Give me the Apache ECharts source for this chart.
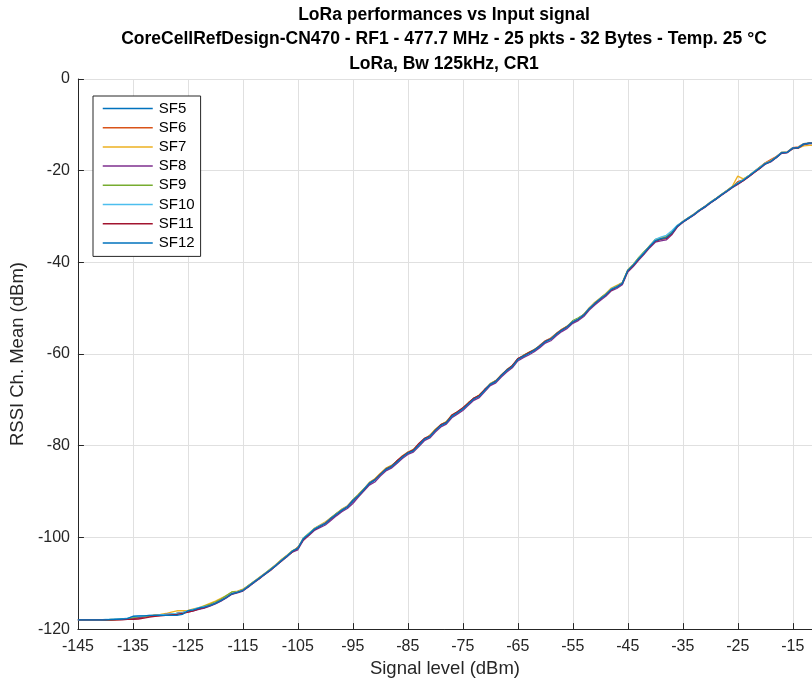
<!DOCTYPE html>
<html>
<head>
<meta charset="utf-8">
<script src="https://cdn.jsdelivr.net/npm/echarts@6/dist/echarts.min.js"></script>
<style>
  html, body { margin: 0; padding: 0; background: #fff; }
  #chart { width: 812px; height: 683px; }
</style>
</head>
<body>
<div id="chart"></div>
<script>
// Input signal level sweep (dBm), 1 dB steps
const signalLevels = [
  -145, -144, -143, -142, -141, -140, -139, -138, -137, -136,
  -135, -134, -133, -132, -131, -130, -129, -128, -127, -126,
  -125, -124, -123, -122, -121, -120, -119, -118, -117, -116,
  -115, -114, -113, -112, -111, -110, -109, -108, -107, -106,
  -105, -104, -103, -102, -101, -100, -99, -98, -97, -96,
  -95, -94, -93, -92, -91, -90, -89, -88, -87, -86,
  -85, -84, -83, -82, -81, -80, -79, -78, -77, -76,
  -75, -74, -73, -72, -71, -70, -69, -68, -67, -66,
  -65, -64, -63, -62, -61, -60, -59, -58, -57, -56,
  -55, -54, -53, -52, -51, -50, -49, -48, -47, -46,
  -45, -44, -43, -42, -41, -40, -39, -38, -37, -36,
  -35, -34, -33, -32, -31, -30, -29, -28, -27, -26,
  -25, -24, -23, -22, -21, -20, -19, -18, -17, -16,
  -15, -14, -13, -12, -11
];

// Mean channel RSSI (dBm) per spreading factor
const rssiSF5 = [
  -118.0, -118.0, -118.0, -118.0, -118.0, -118.0, -118.0, -117.9, -117.9, -117.8,
  -117.5, -117.3, -117.2, -117.1, -117.0, -117.0, -116.9, -116.8, -116.6, -116.4,
  -116.1, -115.7, -115.5, -115.1, -114.8, -114.3, -113.7, -113.0, -112.4, -111.9,
  -111.5, -110.6, -109.9, -108.8, -108.1, -107.0, -106.2, -105.0, -104.2, -103.1,
  -102.2, -100.5, -99.2, -98.4, -97.5, -96.8, -96.0, -94.8, -94.2, -93.2,
  -92.2, -90.8, -89.7, -88.4, -87.4, -86.1, -85.3, -84.5, -83.7, -82.4,
  -81.7, -80.9, -80.0, -78.7, -77.8, -76.8, -75.5, -74.9, -73.7, -72.7,
  -72.1, -70.8, -69.9, -69.0, -68.0, -66.7, -65.9, -64.8, -63.5, -62.8,
  -61.1, -60.6, -59.8, -59.1, -58.4, -57.4, -56.6, -55.8, -54.9, -54.0,
  -53.1, -52.3, -51.4, -50.2, -49.1, -47.9, -47.0, -46.0, -45.2, -44.4,
  -41.9, -40.5, -39.3, -37.8, -36.6, -35.2, -34.7, -34.4, -33.4, -32.0,
  -31.2, -30.4, -29.6, -28.7, -27.9, -27.0, -26.2, -25.3, -24.5, -23.6,
  -22.6, -22.0, -21.2, -20.3, -19.4, -18.4, -17.9, -17.1, -16.1, -16.0,
  -15.1, -15.0, -14.3, -14.1, -14.0
];
const rssiSF6 = [
  -118.0, -118.0, -118.0, -118.0, -118.0, -118.0, -118.0, -118.0, -117.9, -117.9,
  -117.8, -117.6, -117.4, -117.2, -117.1, -117.0, -117.0, -116.9, -116.7, -116.4,
  -116.2, -115.9, -115.6, -115.3, -114.7, -114.2, -113.6, -112.9, -112.2, -111.8,
  -111.4, -110.8, -109.7, -109.0, -107.9, -107.2, -106.0, -105.2, -104.0, -103.2,
  -102.1, -100.6, -99.5, -98.1, -97.7, -96.8, -96.1, -94.9, -94.0, -93.3,
  -91.8, -91.0, -89.4, -88.3, -87.3, -86.4, -85.0, -84.7, -83.4, -82.6,
  -81.4, -81.2, -79.7, -78.7, -77.7, -76.8, -75.4, -75.1, -73.4, -72.9,
  -71.8, -71.0, -69.6, -69.3, -67.7, -66.7, -65.8, -64.8, -63.4, -62.8,
  -61.0, -60.6, -59.7, -59.3, -58.1, -57.1, -56.5, -55.5, -54.6, -54.0,
  -52.8, -52.5, -51.3, -50.2, -48.8, -48.1, -46.9, -46.0, -45.2, -44.7,
  -41.7, -40.7, -39.1, -38.0, -36.4, -35.4, -34.7, -34.7, -33.5, -32.2,
  -31.1, -30.4, -29.5, -28.7, -27.8, -27.0, -26.1, -25.3, -24.4, -23.5,
  -22.4, -22.0, -21.1, -20.2, -19.2, -18.3, -17.6, -16.9, -16.0, -15.9,
  -15.0, -14.8, -14.1, -14.0, -14.0
];
const rssiSF7 = [
  -118.0, -118.0, -118.0, -118.0, -118.0, -118.0, -117.9, -117.9, -117.8, -117.7,
  -117.5, -117.4, -117.2, -117.1, -116.9, -116.8, -116.6, -116.3, -116.0, -116.0,
  -115.9, -115.6, -115.3, -114.9, -114.4, -113.9, -113.3, -112.7, -111.9, -111.7,
  -111.3, -110.5, -109.6, -108.7, -107.8, -106.9, -105.9, -104.8, -103.9, -102.9,
  -102.2, -100.4, -99.2, -98.0, -97.3, -96.6, -95.7, -94.8, -93.8, -93.1,
  -91.9, -90.6, -89.4, -88.0, -87.2, -86.0, -84.9, -84.3, -83.4, -82.2,
  -81.4, -80.8, -79.6, -78.5, -77.7, -76.4, -75.4, -74.7, -73.3, -72.6,
  -71.8, -70.6, -69.7, -68.9, -67.8, -66.4, -65.8, -64.5, -63.5, -62.5,
  -61.1, -60.3, -59.6, -59.0, -58.2, -57.2, -56.6, -55.5, -54.6, -53.9,
  -52.9, -52.2, -51.3, -49.9, -48.7, -47.8, -46.8, -45.6, -45.0, -44.4,
  -41.6, -40.4, -39.0, -37.7, -36.3, -35.1, -34.6, -34.3, -33.4, -32.0,
  -31.1, -30.3, -29.5, -28.6, -27.8, -26.9, -26.1, -25.2, -24.3, -23.4,
  -21.2, -21.8, -21.1, -20.2, -19.3, -18.4, -17.8, -17.0, -16.1, -16.0,
  -15.2, -15.1, -14.6, -14.5, -14.4
];
const rssiSF8 = [
  -118.0, -118.0, -118.0, -118.0, -118.0, -118.0, -118.0, -117.9, -117.9, -117.8,
  -117.7, -117.5, -117.3, -117.1, -117.0, -116.9, -116.8, -116.7, -116.6, -116.4,
  -116.3, -116.0, -115.7, -115.4, -115.0, -114.5, -113.9, -113.2, -112.4, -112.1,
  -111.7, -110.8, -109.9, -109.0, -108.1, -107.2, -106.2, -105.2, -104.2, -103.2,
  -102.7, -100.6, -99.6, -98.5, -97.9, -97.3, -96.3, -95.3, -94.4, -93.7,
  -92.6, -91.2, -89.9, -88.6, -87.9, -86.6, -85.5, -84.9, -83.9, -82.8,
  -81.9, -81.4, -80.2, -78.9, -78.3, -77.0, -75.9, -75.3, -73.9, -73.1,
  -72.3, -71.2, -70.1, -69.5, -68.2, -66.9, -66.3, -65.0, -63.9, -63.0,
  -61.5, -60.8, -60.2, -59.5, -58.6, -57.6, -57.1, -56.0, -55.1, -54.4,
  -53.3, -52.7, -51.8, -50.4, -49.3, -48.3, -47.4, -46.2, -45.7, -44.9,
  -42.1, -40.9, -39.5, -38.2, -36.8, -35.6, -35.3, -35.1, -34.0, -32.3,
  -31.3, -30.5, -29.7, -28.8, -28.0, -27.1, -26.3, -25.4, -24.6, -23.7,
  -23.0, -22.2, -21.3, -20.4, -19.5, -18.6, -18.1, -17.2, -16.2, -16.1,
  -15.2, -15.1, -14.3, -14.1, -14.1
];
const rssiSF9 = [
  -118.0, -118.0, -118.0, -118.0, -118.0, -118.0, -118.0, -117.9, -117.8, -117.7,
  -117.5, -117.3, -117.2, -117.1, -117.0, -117.0, -116.9, -116.8, -116.6, -116.5,
  -116.1, -115.8, -115.4, -115.0, -114.6, -114.1, -113.5, -112.7, -111.9, -111.9,
  -111.4, -110.5, -109.6, -108.8, -107.9, -106.9, -106.0, -104.9, -104.0, -102.9,
  -102.3, -100.1, -99.1, -98.1, -97.4, -96.9, -95.7, -94.8, -93.9, -93.3,
  -91.8, -90.7, -89.4, -88.1, -87.3, -86.2, -85.0, -84.4, -83.4, -82.4,
  -81.5, -80.9, -79.8, -78.5, -77.9, -76.5, -75.5, -74.8, -73.5, -72.7,
  -71.9, -70.7, -69.7, -69.0, -67.8, -66.5, -65.8, -64.6, -63.4, -62.6,
  -61.1, -60.3, -59.7, -59.0, -58.2, -57.2, -56.6, -55.6, -54.7, -53.9,
  -52.7, -52.1, -51.4, -50.0, -48.9, -47.8, -46.9, -45.8, -45.2, -44.5,
  -41.7, -40.5, -38.9, -37.6, -36.4, -35.0, -34.8, -34.5, -33.5, -32.0,
  -31.1, -30.3, -29.5, -28.6, -27.8, -26.9, -26.1, -25.2, -24.4, -23.5,
  -22.7, -22.0, -21.1, -20.2, -19.3, -18.4, -17.9, -17.0, -16.0, -16.0,
  -15.0, -14.9, -14.2, -14.0, -14.0
];
const rssiSF10 = [
  -118.0, -118.0, -118.0, -118.0, -118.0, -117.9, -117.9, -117.8, -117.8, -117.6,
  -117.3, -117.2, -117.1, -117.0, -117.0, -116.9, -116.8, -116.7, -116.6, -116.4,
  -116.0, -115.7, -115.3, -115.1, -114.8, -114.3, -113.7, -113.0, -112.2, -111.9,
  -111.5, -110.6, -109.7, -108.8, -107.9, -107.0, -106.0, -105.0, -104.0, -103.0,
  -102.3, -100.2, -99.2, -98.1, -97.4, -96.8, -95.8, -94.9, -94.0, -93.2,
  -91.9, -90.8, -89.5, -88.1, -87.4, -86.2, -85.1, -84.5, -83.5, -82.4,
  -81.5, -81.0, -79.8, -78.5, -77.9, -76.6, -75.5, -74.9, -73.5, -72.7,
  -71.9, -70.8, -69.7, -69.1, -67.8, -66.5, -65.9, -64.6, -63.5, -62.6,
  -61.1, -60.4, -59.8, -59.1, -58.2, -57.2, -56.7, -55.6, -54.7, -54.0,
  -52.9, -52.3, -51.4, -50.0, -48.9, -47.9, -47.0, -45.8, -45.3, -44.5,
  -41.7, -40.5, -39.1, -37.8, -36.4, -35.0, -34.5, -34.1, -33.1, -31.9,
  -31.1, -30.3, -29.5, -28.6, -27.8, -26.9, -26.1, -25.2, -24.4, -23.5,
  -22.7, -22.0, -21.1, -20.2, -19.3, -18.4, -17.9, -17.0, -16.0, -16.0,
  -15.0, -14.9, -14.1, -14.0, -14.0
];
const rssiSF11 = [
  -118.0, -118.0, -118.0, -118.0, -118.0, -118.0, -118.0, -118.0, -118.0, -117.9,
  -117.9, -117.8, -117.6, -117.4, -117.2, -117.1, -117.0, -116.9, -116.8, -116.6,
  -116.3, -116.0, -115.6, -115.3, -114.9, -114.4, -113.8, -113.1, -112.3, -112.0,
  -111.6, -110.7, -109.8, -108.9, -108.0, -107.1, -106.1, -105.1, -104.1, -103.1,
  -102.4, -100.4, -99.4, -98.3, -97.6, -96.9, -95.9, -95.0, -94.1, -93.3,
  -92.0, -90.9, -89.6, -88.2, -87.4, -86.2, -85.1, -84.5, -83.3, -82.3,
  -81.5, -80.9, -79.5, -78.4, -77.9, -76.6, -75.4, -74.9, -73.3, -72.6,
  -71.7, -70.7, -69.6, -69.0, -67.7, -66.6, -65.9, -64.6, -63.5, -62.5,
  -61.0, -60.4, -59.7, -59.1, -58.2, -57.2, -56.7, -55.6, -54.7, -54.0,
  -53.0, -52.4, -51.5, -50.1, -49.0, -48.0, -47.1, -46.0, -45.4, -44.6,
  -41.9, -40.7, -39.3, -38.0, -36.6, -35.4, -35.0, -34.8, -33.8, -32.2,
  -31.2, -30.4, -29.6, -28.7, -27.9, -27.0, -26.2, -25.3, -24.5, -23.6,
  -22.9, -22.2, -21.3, -20.4, -19.5, -18.5, -18.0, -17.1, -16.1, -16.0,
  -15.1, -15.0, -14.2, -14.0, -14.0
];
const rssiSF12 = [
  -118.0, -118.0, -118.0, -118.0, -118.0, -118.0, -117.9, -117.9, -117.8, -117.7,
  -117.2, -117.1, -117.1, -117.0, -117.0, -117.0, -117.0, -117.0, -117.0, -116.8,
  -116.0, -115.8, -115.4, -115.2, -114.9, -114.4, -113.8, -113.1, -112.3, -112.0,
  -111.6, -110.7, -109.8, -108.9, -108.0, -107.1, -106.1, -105.1, -104.1, -103.0,
  -102.4, -100.3, -99.3, -98.2, -97.6, -97.0, -95.9, -95.0, -94.1, -93.4,
  -92.0, -90.9, -89.6, -88.2, -87.5, -86.3, -85.2, -84.6, -83.6, -82.5,
  -81.6, -81.1, -79.9, -78.6, -78.0, -76.7, -75.6, -75.0, -73.6, -72.8,
  -72.0, -70.9, -69.8, -69.2, -67.9, -66.6, -66.0, -64.7, -63.6, -62.7,
  -61.2, -60.5, -59.9, -59.2, -58.3, -57.3, -56.8, -55.7, -54.8, -54.1,
  -53.0, -52.4, -51.5, -50.1, -49.0, -48.0, -47.1, -45.9, -45.4, -44.6,
  -41.8, -40.6, -39.2, -37.9, -36.5, -35.3, -34.9, -34.6, -33.6, -32.1,
  -31.2, -30.4, -29.6, -28.7, -27.9, -27.0, -26.2, -25.3, -24.5, -23.6,
  -22.8, -22.1, -21.2, -20.3, -19.4, -18.5, -18.0, -17.1, -16.1, -16.0,
  -15.1, -15.0, -14.2, -14.0, -14.0
];

const seriesNames = ['SF5', 'SF6', 'SF7', 'SF8', 'SF9', 'SF10', 'SF11', 'SF12'];
const seriesValues = [rssiSF5, rssiSF6, rssiSF7, rssiSF8, rssiSF9, rssiSF10, rssiSF11, rssiSF12];
const seriesColors = ['#0072BD', '#D95319', '#EDB120', '#7E2F8E', '#77AC30', '#4DBEEE', '#A2142F', '#0072BD'];

const titleLines = [
  'LoRa performances vs Input signal',
  'CoreCellRefDesign-CN470 - RF1 - 477.7 MHz - 25 pkts - 32 Bytes - Temp. 25 °C',
  'LoRa, Bw 125kHz, CR1'
];

const FONT = '"Liberation Sans", Arial, Helvetica, sans-serif';
const INK = '#262626';

const chart = echarts.init(document.getElementById('chart'), null, { renderer: 'canvas' });

chart.setOption({
  backgroundColor: '#ffffff',
  animation: false,
  textStyle: { fontFamily: FONT },
  title: titleLines.map((t, i) => ({
    text: t,
    left: 444,
    top: 6 + i * 24.5,
    textAlign: 'center',
    padding: 0,
    textStyle: { fontFamily: FONT, fontSize: 17.5, fontWeight: 'bold', color: '#000' }
  })),
  legend: {
    orient: 'vertical',
    left: 93,
    top: 96,
    padding: [5, 6, 6, 9],
    itemWidth: 50,
    itemHeight: 14,
    itemGap: 4.2,
    backgroundColor: '#ffffff',
    borderColor: INK,
    borderWidth: 1,
    borderRadius: 0,
    itemStyle: { opacity: 0 },
    lineStyle: { width: 1.5 },
    textStyle: { fontFamily: FONT, fontSize: 15, color: '#000', padding: [0, 0, 0, 1] },
    data: seriesNames
  },
  grid: { left: 76, right: 0, top: 79, bottom: 53, containLabel: false },
  xAxis: {
    type: 'value',
    min: -145,
    max: -11.5,
    interval: 10,
    name: 'Signal level (dBm)',
    nameLocation: 'middle',
    nameGap: 28,
    nameTextStyle: { fontFamily: FONT, fontSize: 18.5, color: INK },
    axisLine: { show: true, onZero: false, lineStyle: { color: INK, width: 1 } },
    axisTick: { show: true, inside: true, length: 6, lineStyle: { color: INK } },
    axisLabel: { fontFamily: FONT, fontSize: 16, color: INK, margin: 9, showMaxLabel: false },
    splitLine: { show: true, lineStyle: { color: '#e0e0e0', width: 1 } }
  },
  yAxis: {
    type: 'value',
    min: -120,
    max: 0,
    interval: 20,
    name: 'RSSI Ch. Mean (dBm)',
    nameLocation: 'middle',
    nameGap: 38,
    nameTextStyle: { fontFamily: FONT, fontSize: 18.5, color: INK },
    axisLine: { show: true, onZero: false, lineStyle: { color: INK, width: 1 } },
    axisTick: { show: true, inside: true, length: 6, lineStyle: { color: INK } },
    axisLabel: { fontFamily: FONT, fontSize: 16, color: INK, margin: 8 },
    splitLine: { show: true, lineStyle: { color: '#e0e0e0', width: 1 } }
  },
  series: seriesNames.map((name, i) => ({
    name: name,
    type: 'line',
    symbol: 'none',
    smooth: false,
    clip: true,
    color: seriesColors[i],
    lineStyle: { width: 1.3, color: seriesColors[i] },
    data: signalLevels.map((x, k) => [x, seriesValues[i][k]])
  }))
});
</script>
</body>
</html>
